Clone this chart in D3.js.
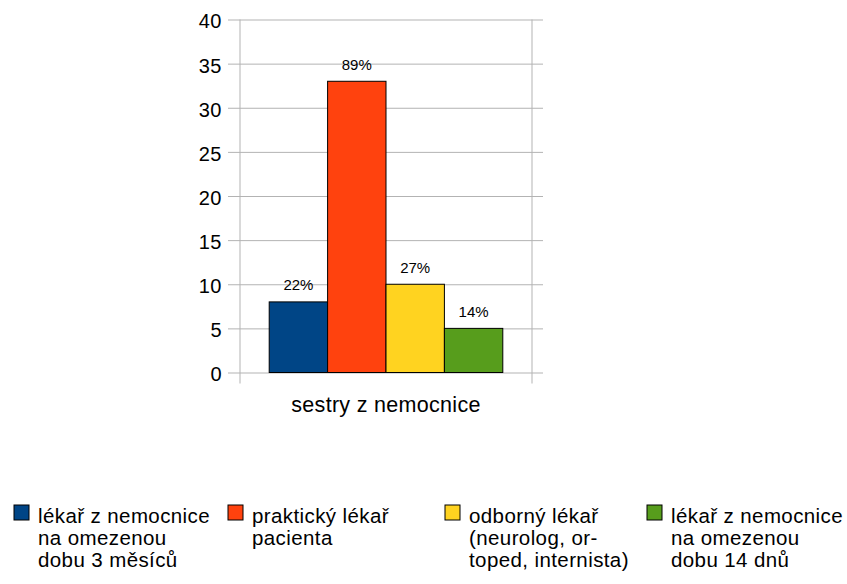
<!DOCTYPE html>
<html>
<head>
<meta charset="utf-8">
<script src="https://cdn.jsdelivr.net/npm/d3@7"></script>
<style>
  body { margin: 0; background: #fff; }
  svg text { font-family: "Liberation Sans", Arial, sans-serif; fill: #000; }
</style>
</head>
<body>
<div id="chart"></div>
<script>
// data
const categories = ['sestry z nemocnice'];
const seriesNames = [
  ['lékař z nemocnice', 'na omezenou', 'dobu 3 měsíců'],
  ['praktický lékař', 'pacienta'],
  ['odborný lékař', '(neurolog, or-', 'toped, internista)'],
  ['lékař z nemocnice', 'na omezenou', 'dobu 14 dnů']
];
const values = [8, 33, 10, 5];
const percentLabels = ['22%', '89%', '27%', '14%'];
const yTicks = [0, 5, 10, 15, 20, 25, 30, 35, 40];
const colors = ['#004586', '#ff420e', '#ffd320', '#579d1c'];

const width = 847, height = 584;
const plot = { left: 240, right: 532, top: 19.5, bottom: 372.5 };

const svg = d3.select('#chart')
  .append('svg')
  .attr('width', width)
  .attr('height', height);

const y = d3.scaleLinear()
  .domain([0, 40])
  .range([plot.bottom, plot.top]);

const x0 = d3.scaleBand()
  .domain(categories)
  .range([plot.left, plot.right]);

const idx = values.map((d, i) => i);
const x1 = d3.scaleBand()
  .domain(idx)
  .range([x0.bandwidth() * 0.1, x0.bandwidth() * 0.9]);

// gridlines + y tick labels
const yAxis = svg.append('g')
  .attr('transform', `translate(${plot.left - 12},0)`)
  .call(d3.axisLeft(y)
    .tickValues(yTicks)
    .tickSize(-(plot.right - plot.left + 23))
    .tickPadding(6));
yAxis.select('.domain').remove();
yAxis.selectAll('.tick line').attr('stroke', '#b3b3b3');
yAxis.selectAll('.tick text')
  .attr('dy', '0.42em')
  .style('font-size', '20px')
  .style('letter-spacing', '0.5px')
  .style('font-family', '"Liberation Sans", Arial, sans-serif');

// vertical lines at category edges
const edges = [x0(categories[0]), x0(categories[0]) + x0.bandwidth()];
svg.selectAll('.vline')
  .data(edges)
  .enter().append('line')
  .attr('x1', d => d).attr('x2', d => d)
  .attr('y1', plot.top).attr('y2', plot.bottom + 11)
  .attr('stroke', '#b3b3b3');

// bars
const g = svg.append('g')
  .attr('transform', `translate(${x0(categories[0])},0)`);

g.selectAll('rect')
  .data(values)
  .enter().append('rect')
  .attr('x', (d, i) => x1(i))
  .attr('y', d => y(d))
  .attr('width', x1.bandwidth())
  .attr('height', d => y(0) - y(d))
  .attr('fill', (d, i) => colors[i])
  .attr('stroke', '#000')
  .attr('stroke-width', 1);

g.selectAll('.pct')
  .data(values)
  .enter().append('text')
  .attr('x', (d, i) => x1(i) + x1.bandwidth() / 2)
  .attr('y', d => y(d) - 11.5)
  .attr('text-anchor', 'middle')
  .style('font-size', '15px')
  .text((d, i) => percentLabels[i]);

// x axis title
svg.append('text')
  .attr('x', x0(categories[0]) + x0.bandwidth() / 2)
  .attr('y', 412)
  .attr('text-anchor', 'middle')
  .style('font-size', '21.5px')
  .style('letter-spacing', '0.3px')
  .text(categories[0]);

// legend
const legendX = [14, 228, 445, 647];
const legend = svg.selectAll('.legend')
  .data(seriesNames)
  .enter().append('g')
  .attr('transform', (d, i) => `translate(${legendX[i]},505)`);

legend.append('rect')
  .attr('width', 15)
  .attr('height', 15)
  .attr('fill', (d, i) => colors[i])
  .attr('stroke', '#000')
  .attr('stroke-width', 1);

legend.append('text')
  .attr('x', 24)
  .attr('y', 18)
  .style('font-size', '20.5px')
  .style('letter-spacing', '0.4px')
  .selectAll('tspan')
  .data(d => d)
  .enter().append('tspan')
  .attr('x', 24)
  .attr('dy', (d, i) => i === 0 ? 0 : 22)
  .text(d => d);
</script>
</body>
</html>
